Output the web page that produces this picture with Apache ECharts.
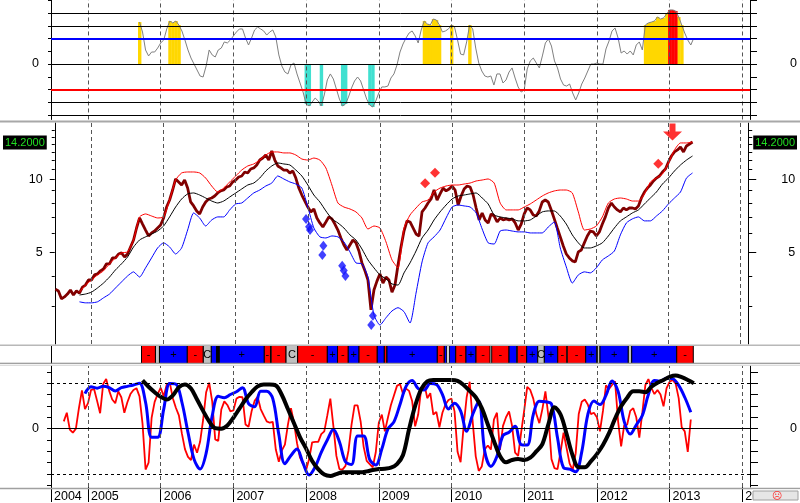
<!DOCTYPE html>
<html><head><meta charset="utf-8">
<script src="https://cdn.jsdelivr.net/npm/echarts@6/dist/echarts.min.js"></script>
<style>html,body{margin:0;padding:0;background:#fff}#c{width:800px;height:503px}</style>
</head><body><div id="c"></div>
<script>
// ---------- DATA ----------
// Top oscillator (half-monthly samples from 2005.7083)
const OSC_START = 2005.7083;
const oscillator = [3.29,2.51,1.10,0.63,0.94,0.94,1.25,1.65,1.88,2.75,
 3.37,3.22,3.37,3.06,2.59,1.88,1.10,0.47,0,-0.47,
 -0.94,-1.02,-0.16,1.10,0.71,0.55,1.10,1.25,1.73,1.65,
 1.88,2.20,2.51,2.75,2.75,2.04,1.49,2.04,2.67,2.90,
 2.75,2.59,2.27,2.51,2.67,2.12,0.71,-0.16,-0.63,-0.78,
 -0.08,0.08,-0.78,-1.49,-2.20,-3.14,-3.29,-2.98,-2.67,-2.90,
 -3.29,-2.43,-1.25,-0.78,-1.18,-1.96,-2.75,-3.29,-3.14,-2.59,
 -1.88,-1.33,-1.02,-1.33,-2.04,-2.75,-3.22,-3.37,-2.90,-2.27,
 -1.80,-1.80,-1.73,-1.10,-0.78,-0.08,0.94,1.57,2.04,2.43,
 2.59,2.20,1.65,2.67,3.37,3.14,3.06,3.53,3.45,3.06,
 2.51,2.59,2.75,3.06,2.90,1.88,0.78,0.71,1.73,3.06,
 2.75,1.25,0.08,-0.55,-0.94,-1.02,-0.94,-1.65,-0.78,-0.78,
 -1.49,-1.25,-0.63,-0.31,-1.10,-1.80,-2.20,-2.04,-0.39,0.24,
 0.47,0.08,-0.31,0.63,1.65,1.96,1.41,0.24,-0.31,-1.18,
 -1.65,-1.73,-1.57,-2.27,-2.82,-2.27,-1.57,-1.10,-0.55,0,
 0,0.08,0,0,1.18,1.80,2.59,2.82,2.04,0.86,
 1.02,0.78,1.02,0.71,1.49,1.73,1.10,3.06,3.22,3.29,
 3.37,3.69,3.53,3.61,3.92,4.24,4.24,4.16,3.69,3.06,
 2.43,1.88,1.49,2.04];
const oscLevels = [-4,-3,-2,0,2,3,4];

// Price (half-monthly closes from 2004.5)
const PRICE_START = 2004.5;
const price = [3.53,3.47,3.22,3.28,3.37,3.50,3.34,3.47,3.40,3.60,
 3.67,3.85,3.85,4.04,4.08,4.20,4.28,4.49,4.49,4.75,
 4.75,4.93,4.98,4.79,4.93,5.27,5.63,6.31,6.94,6.55,
 6.19,5.85,6.02,6.13,6.31,6.49,6.94,7.70,8.23,9.05,
 10.05,9.77,9.49,9.95,9.22,8.08,7.78,7.42,7.21,7.70,
 8.08,8.31,8.39,8.55,8.80,8.97,9.05,9.31,9.40,9.77,
 9.95,10.24,10.34,10.74,10.64,11.05,11.16,11.48,12.03,12.26,
 12.62,12.03,13.11,12.03,11.37,11.16,10.94,10.94,10.64,10.84,
 10.14,9.22,8.63,8.15,7.70,7.35,7.56,6.94,6.62,6.37,
 6.68,7.01,6.88,6.55,6.19,5.74,5.37,5.12,5.37,5.63,
 5.48,5.07,4.53,4.20,3.85,2.90,3.50,3.81,4.08,3.74,
 3.96,3.85,3.43,3.67,4.44,5.27,6.13,6.75,6.68,6.31,
 5.96,5.85,7.35,7.63,8.00,8.31,9.05,8.23,8.72,9.22,
 8.97,9.14,9.40,9.05,7.85,8.55,9.14,9.40,9.31,8.63,
 7.63,6.81,7.28,6.81,6.62,7.21,7.07,6.68,6.94,6.81,
 6.88,6.81,6.88,6.62,6.19,6.55,7.21,7.63,7.49,7.14,
 7.07,7.42,8.08,8.23,8.08,7.49,6.88,6.31,5.80,5.32,
 4.93,4.75,4.62,4.57,5.03,5.12,5.48,5.85,6.13,6.08,
 5.85,6.08,6.55,7.01,7.63,8.00,7.70,7.49,7.35,7.63,
 7.49,7.63,7.63,7.56,7.78,8.39,8.88,9.22,9.49,9.86,
 10.14,10.34,10.74,11.05,11.81,12.50,12.99,13.24,13.62,12.99,
 13.75,14.01,14.28];

// Envelope (monthly from 2004.8333)
const ENV_START = 2004.8333;
const upperBand = [3.43,3.67,3.85,4.04,4.20,4.49,4.75,4.98,5.03,5.63,
 7.01,7.21,7.07,6.94,7.01,8.23,9.95,10.64,10.74,10.74,
 10.64,10.14,9.40,8.88,9.22,9.77,10.34,10.94,11.37,11.59,
 12.03,12.62,12.99,12.99,12.87,12.87,12.62,12.15,12.03,12.26,
 12.03,11.16,9.49,8.00,7.70,7.56,7.35,6.94,6.25,6.43,
 6.31,5.53,4.66,4.32,6.31,7.14,7.63,8.08,8.23,8.88,
 9.22,9.40,9.49,9.49,9.58,9.67,9.86,9.95,10.05,9.67,
 8.00,7.49,7.49,7.49,7.70,7.93,8.23,8.55,8.80,8.97,
 9.05,9.05,8.80,7.35,6.19,6.25,6.43,7.01,8.00,8.31,
 8.39,8.31,8.15,8.15,8.72,9.77,10.14,10.54,11.70,13.24,
 14.15,14.15,14.28];
const middleLine = [3.34,3.37,3.43,3.57,3.74,3.96,4.24,4.49,4.79,5.27,
 5.63,5.80,5.96,6.13,6.43,7.01,7.70,8.31,8.72,8.80,
 8.63,8.39,8.15,8.00,8.15,8.47,8.80,9.14,9.49,9.67,
 10.14,10.84,11.37,11.70,11.59,11.48,10.94,10.34,9.49,8.63,
 8.08,7.42,6.88,6.62,6.31,5.91,5.63,5.17,4.66,4.32,
 4.04,3.89,3.71,3.67,4.12,4.53,5.07,5.74,6.19,6.81,
 7.35,7.85,8.31,8.55,8.63,8.72,8.80,8.39,7.93,7.14,
 7.01,6.94,6.88,6.75,6.75,6.81,7.07,7.35,7.42,7.42,
 7.07,6.55,5.91,5.48,5.22,5.22,5.32,5.48,5.85,6.31,
 6.75,7.01,7.28,7.49,7.93,8.39,8.88,9.58,10.14,10.84,
 11.48,12.03,12.50];
const lowerBand = [3.13,3.10,3.10,3.13,3.25,3.37,3.57,3.78,4.00,4.16,
 3.96,4.32,4.75,5.22,5.48,5.27,4.93,5.22,6.19,7.28,
 6.94,6.43,6.81,7.01,7.01,7.49,7.93,8.00,8.39,8.80,
 9.05,9.40,9.67,10.34,10.05,9.77,9.58,9.22,7.70,6.31,
 5.80,5.74,5.85,5.80,5.53,5.03,4.53,4.49,3.96,2.76,
 2.51,2.69,2.87,2.96,2.85,2.56,3.40,4.57,5.48,5.80,
 6.19,6.94,7.70,7.85,7.78,7.70,7.28,6.25,5.48,5.42,
 6.13,6.19,6.13,6.08,6.08,6.02,6.02,6.02,6.37,6.68,
 5.22,4.36,3.74,4.04,4.16,4.12,4.32,4.66,4.84,5.07,
 5.91,6.62,6.88,7.01,6.75,6.75,7.07,7.42,7.93,8.39,
 8.88,10.14,10.64];

// Signals [year, price]
const blueSignals = [[2007.975,6.88],[2008.017,6.39],[2008.030,6.19],[2008.215,5.33],[2008.201,4.88],
 [2008.476,4.41],[2008.498,4.21],[2008.521,4.00],[2008.902,2.74],[2008.879,2.51]];
const redSignals = [[2009.626,9.64],[2009.763,10.66],[2012.858,11.62]];
const arrowSignal = [[2013.056,15.70]];
const lastPrice = 14.2;

// Trend band segments
const bandFrom = [2005.736,2005.928,2005.983,2006.366,2006.586,2006.696,2006.770,2006.806,2007.425,2007.520,
 2007.724,2007.884,2008.292,2008.432,2008.580,2008.728,2008.979,2009.076,2009.113,2009.805,
 2009.901,2009.970,2010.058,2010.199,2010.337,2010.553,2010.791,2010.905,2011.034,2011.186,
 2011.277,2011.461,2011.593,2011.846,2012.006,2012.043,2012.432,2012.479,2013.098];
const bandTo = [2005.928,2005.983,2006.366,2006.586,2006.696,2006.770,2006.806,2007.425,2007.510,2007.724,
 2007.884,2008.292,2008.432,2008.580,2008.728,2008.979,2009.076,2009.109,2009.805,2009.901,
 2009.934,2010.058,2010.199,2010.337,2010.530,2010.791,2010.897,2011.034,2011.186,2011.277,
 2011.461,2011.585,2011.846,2011.997,2012.043,2012.432,2012.479,2013.098,2013.326];
const bandKind = ['D','C','U','D','C','U','K','U','D','D',
 'C','D','U','D','U','D','U','D','U','D',
 'U','U','D','U','D','D','U','D','U','C',
 'U','D','D','U','C','U','C','U','D'];
const bandText = ['-','','+','-','C','','','+','-','-',
 'C','-','+','-','+','-','','','+','-',
 '','','-','+','-','-','','-','+','C',
 '+','-','-','+','','+','','+','-'];

// Bottom oscillators
const FAST_START = 2004.6667;  // half-monthly
const fastOsc = [16,35,-2,-9,0,45,84,43,56,85,
 87,61,34,98,109,83,64,56,82,69,
 35,58,76,85,89,71,11,-90,-75,24,
 59,76,90,71,97,101,67,46,29,-11,
 -45,-62,-69,-35,-53,-29,19,80,101,60,
 -24,-27,42,60,52,38,40,66,70,69,
 9,4,38,61,70,43,29,16,13,15,
 -46,-73,-48,-35,9,45,13,-32,-64,-78,
 -91,-67,-30,-29,-29,-12,-6,29,66,6,
 -60,-89,-90,-82,-48,9,51,51,16,-40,
 -71,-78,-85,-52,13,31,-6,24,52,73,
 94,98,76,88,83,61,5,31,88,99,
 67,78,31,37,3,35,53,63,66,38,
 -51,-74,5,69,103,15,-61,-93,-83,-45,
 -37,-46,20,35,-47,6,25,38,6,-53,
 -60,-8,40,92,85,66,32,12,43,82,
 27,-67,-87,-89,-51,-9,-43,-77,-91,-54,
 32,59,64,53,32,35,25,-6,39,95,
 87,96,104,16,-39,7,9,39,45,25,
 -20,35,96,109,89,76,85,75,49,89,
 103,107,99,67,3,-6,-51,20];
const MED_START = 2004.9583;   // monthly
const medOsc = [77,92,89,93,90,83,90,93,96,100,
 58,-19,-19,43,99,98,58,-8,-67,-89,
 -54,28,71,68,75,81,90,55,48,82,
 82,66,-13,-77,-59,-45,-76,-102,-84,-52,
 -25,-2,-29,-73,-79,-16,-16,-68,-80,-45,
 -1,15,53,93,106,88,85,99,97,75,
 43,56,39,-6,31,60,-51,-83,-61,-15,
 -8,5,-35,-36,31,60,59,54,-20,-86,
 -89,-95,-51,31,61,53,73,105,82,16,
 -12,8,29,75,106,104,111,110,95,69,
 36];
const SLOW_START = 2005.75;    // monthly
const slowOsc = [106,92,80,70,64,73,91,97,88,64,
 39,16,1,0,7,24,44,64,80,93,
 97,97,95,74,43,12,-19,-44,-71,-89,
 -101,-104,-100,-96,-96,-96,-96,-94,-91,-89,
 -88,-86,-78,-58,-1,50,87,104,107,107,
 107,107,105,96,83,69,45,9,-27,-60,
 -74,-69,-67,-69,-64,-50,-34,10,47,31,
 -12,-59,-85,-85,-72,-56,-36,-10,22,49,
 68,82,82,80,92,101,107,114,117,113,
 107,100];

const yearLines = [2005,2006,2007,2008,2009,2010,2011,2012,2013,2014];
const yearLabels = [2004.491,2005,2006,2007,2008,2009,2010,2011,2012,2013,2014];
const topTicks = [-4,-3,-2,-1,0,1,2,3,4,5];
const priceTicks = [3,4,6,7,8,9,11,12,13,14,15,16];
const priceMajor = [5,10];
const botTicks = [-125,-100,-75,-50,-25,0,25,50,75,100,125];

// ---------- BUILD ----------
const HALF = 1/24, MONTH = 1/12;
const X_MIN = 2004.491, X_MAX = 2014.106;
const FONT = 'Liberation Sans, Arial, sans-serif';
const lg = Math.log10;
const ts = (vals, start, step, f) => vals.map((v,i)=>[+(start+i*step).toFixed(5), f?f(v):v]);

const oscData = ts(oscillator, OSC_START, HALF);
const yellowFill = oscData.filter(d=>d[1]>3 && d[1]<=4);
const redFill = oscData.filter(d=>d[1]>4);
const cyanFill = oscData.filter(d=>d[1]<-3);

const MID_MIN = lg(2.097), MID_MAX = lg(17.10);

function xa(gi, extra){
  return Object.assign({type:'value', gridIndex:gi, min:X_MIN, max:X_MAX,
    axisLine:{show:false, onZero:false}, axisTick:{show:false}, axisLabel:{show:false}, splitLine:{show:false}}, extra||{});
}
function ya(o){
  return {
    type:'value', gridIndex:o.grid, position:o.pos, min:o.min, max:o.max,
    axisLine:{show:!!o.line, onZero:false, lineStyle:{color:'#000', width:1}},
    axisTick:{show:!!o.ticks, customValues:o.ticks, length:o.len||3, lineStyle:{color:'#000', width:1}},
    axisLabel: o.labels ? Object.assign({show:true, customValues:o.labels, color:'#000', fontSize:12.5,
        fontFamily:FONT, margin:o.pos==='right'?47:12, align:'right'}, o.lab||{}) : {show:false},
    splitLine:{show:false}
  };
}
const powFmt = v => String(Math.round(Math.pow(10, v)));
const boxLab = {formatter:()=>lastPrice.toFixed(4), backgroundColor:'#000', color:'#22dd22', fontSize:11,
  fontFamily:FONT, padding:[2,2,1,2]};

function guide(xi, yi, lines){
  return {type:'line', xAxisIndex:xi, yAxisIndex:yi, data:[], silent:true, z:1,
    markLine:{silent:true, symbol:['none','none'], animation:false, label:{show:false},
      lineStyle:{color:'#555', type:[4,3], width:1}, emphasis:{disabled:true}, data:lines}};
}
function fill(data, color){
  return {type:'custom', xAxisIndex:0, yAxisIndex:0, z:2, silent:true, data:data, encode:{x:0,y:1},
    renderItem:(p, api)=>{
      const t=api.value(0), v=api.value(1);
      const a=api.coord([t-HALF/2,0]), b=api.coord([t+HALF/2,v]);
      return {type:'rect', shape:{x:a[0], y:Math.min(a[1],b[1]), width:b[0]-a[0]+0.4, height:Math.abs(b[1]-a[1])},
        style:{fill:color}};
    }};
}
const BAND_COLORS = {U:'#0000ff', D:'#ff0000', C:'#c0c0c0', K:'#000000'};
function line(xi, yi, data, color, width, z, smooth){
  return {type:'line', xAxisIndex:xi, yAxisIndex:yi, data:data, showSymbol:false, symbol:'none', silent:true,
    smooth:smooth||false, z:z, lineStyle:{color:color, width:width}};
}

const option = {
  animation:false,
  backgroundColor:'#fff',
  grid:[
    {left:51, right:50, top:0.25, height:119.2125},
    {left:51, right:50, top:123, height:221},
    {left:51, right:50, top:346, height:17},
    {left:51, right:50, top:366, height:122}
  ],
  xAxis:[xa(0), xa(1), xa(2), xa(3, {
    axisTick:{show:true, customValues:yearLabels, length:15, lineStyle:{color:'#000', width:1}},
    axisLabel:{show:true, customValues:yearLabels, formatter:v=>String(Math.floor(v+1e-6)), align:'left',
      padding:[0,0,0,3], margin:3, fontSize:12.5, color:'#000', fontFamily:FONT}
  })],
  yAxis:[
    ya({grid:0,pos:'left',min:-4.35,max:5,line:1,ticks:topTicks,len:3,labels:[0]}),
    ya({grid:0,pos:'right',min:-4.35,max:5,line:1,ticks:topTicks,len:7,labels:[0]}),
    ya({grid:1,pos:'left',min:MID_MIN,max:MID_MAX,line:1,ticks:priceTicks.map(lg),len:3,labels:priceMajor.map(lg),lab:{formatter:powFmt}}),
    ya({grid:1,pos:'right',min:MID_MIN,max:MID_MAX,line:1,ticks:priceTicks.map(lg),len:4,labels:priceMajor.map(lg),lab:{formatter:powFmt}}),
    ya({grid:1,pos:'left',min:MID_MIN,max:MID_MAX,ticks:priceMajor.map(lg),len:5}),
    ya({grid:1,pos:'right',min:MID_MIN,max:MID_MAX,ticks:priceMajor.map(lg),len:8}),
    ya({grid:1,pos:'left',min:MID_MIN,max:MID_MAX,labels:[lg(lastPrice)],lab:Object.assign({margin:8},boxLab)}),
    ya({grid:1,pos:'right',min:MID_MIN,max:MID_MAX,labels:[lg(lastPrice)],lab:Object.assign({margin:5,align:'left'},boxLab)}),
    ya({grid:2,pos:'left',min:0,max:1,line:1}),
    ya({grid:3,pos:'left',min:-128.35,max:137.73,line:1,ticks:botTicks,len:4,labels:[0]}),
    ya({grid:3,pos:'right',min:-128.35,max:137.73,line:1,ticks:botTicks,len:8,labels:[0]})
  ],
  series:[
    // top panel
    guide(0,0, yearLines.map(y=>({xAxis:y}))),
    fill(yellowFill,'#ffd700'), fill(redFill,'#ff0000'), fill(cyanFill,'#40e0d0'),
    {type:'line', xAxisIndex:0, yAxisIndex:0, data:[], silent:true, z:3,
      markLine:{silent:true, symbol:['none','none'], label:{show:false}, emphasis:{disabled:true},
        lineStyle:{color:'#000', width:1, type:'solid'},
        data: oscLevels.map(v=>{
          if (v===2) return {yAxis:v, lineStyle:{color:'#0000ff', width:2.2}};
          if (v===-2) return {yAxis:v, lineStyle:{color:'#ff0000', width:2.2}};
          return {yAxis:v};
        })}},
    line(0,0, oscData, '#808080', 1, 4),
    // middle panel
    guide(1,2, yearLines.map(y=>({xAxis:y}))),
    line(1,2, ts(price, PRICE_START, HALF, lg), '#800000', 2.8, 2),
    line(1,2, ts(upperBand, ENV_START, MONTH, lg), '#ff0000', 1, 3, 0.2),
    line(1,2, ts(middleLine, ENV_START, MONTH, lg), '#000000', 1, 3, 0.2),
    line(1,2, ts(lowerBand, ENV_START, MONTH, lg), '#0000ff', 1, 3, 0.2),
    {type:'scatter', xAxisIndex:1, yAxisIndex:2, data:blueSignals.map(d=>[d[0], lg(d[1])]), symbol:'diamond',
      symbolSize:[8,10], itemStyle:{color:'#1010ff'}, silent:true, z:6},
    {type:'scatter', xAxisIndex:1, yAxisIndex:2, data:redSignals.map(d=>[d[0], lg(d[1])]), symbol:'diamond',
      symbolSize:[10,10], itemStyle:{color:'#ff0000'}, silent:true, z:6},
    {type:'scatter', xAxisIndex:1, yAxisIndex:2, data:arrowSignal.map(d=>[d[0], lg(d[1])]), clip:false,
      symbol:'path://M6.5,0 L12.5,0 L12.5,8 L19,8 L9.5,17 L0,8 L6.5,8 Z', symbolSize:[19,17],
      itemStyle:{color:'#ff0000'}, silent:true, z:6},
    // band strip
    {type:'custom', xAxisIndex:2, yAxisIndex:8, silent:true, z:3, encode:{x:[0,1]},
      data: bandFrom.map((s,i)=>[s, bandTo[i], i]),
      renderItem:(p, api)=>{
        const i = api.value(2);
        const a = api.coord([api.value(0),1]), b = api.coord([api.value(1),0]);
        const x0=a[0], x1=b[0], y0=a[1], y1=b[1];
        const ch = [
          {type:'rect', shape:{x:x0, y:y0, width:x1-x0, height:y1-y0}, style:{fill:BAND_COLORS[bandKind[i]]}},
          {type:'line', shape:{x1:x0, y1:y0, x2:x0, y2:y1}, style:{stroke:'#000', lineWidth:1}},
          {type:'line', shape:{x1:x1, y1:y0, x2:x1, y2:y1}, style:{stroke:'#000', lineWidth:1}}
        ];
        if (bandText[i]) ch.push({type:'text', style:{text:bandText[i], x:(x0+x1)/2, y:(y0+y1)/2+0.5,
          align:'center', verticalAlign:'middle', fill:'#000', font:'11px '+FONT}});
        return {type:'group', children:ch};
      }},
    // bottom panel
    guide(3,9, yearLines.map(y=>({xAxis:y}))),
    {type:'line', xAxisIndex:3, yAxisIndex:9, data:[], silent:true, z:1,
      markLine:{silent:true, symbol:['none','none'], label:{show:false}, emphasis:{disabled:true},
        data:[{yAxis:100, lineStyle:{color:'#000', type:[3,3], width:1}},
              {yAxis:-100, lineStyle:{color:'#000', type:[3,3], width:1}},
              {yAxis:0, lineStyle:{color:'#000', type:'solid', width:1}}]}},
    line(3,9, ts(fastOsc, FAST_START, HALF), '#ff0000', 1.8, 2),
    line(3,9, ts(medOsc, MED_START, MONTH), '#0000ff', 3, 3, 0.35),
    line(3,9, ts(slowOsc, SLOW_START, MONTH), '#000000', 4, 4, 0.35)
  ],
  graphic:[
    {type:'rect', z:100, shape:{x:0,y:120.5,width:800,height:2}, style:{fill:'#a8a8a8'}},
    {type:'rect', z:100, shape:{x:0,y:344.5,width:800,height:1.5}, style:{fill:'#b8b8b8'}},
    {type:'rect', z:100, shape:{x:0,y:362.8,width:800,height:1}, style:{fill:'#808080'}},
    {type:'rect', z:100, shape:{x:0,y:364.8,width:800,height:1}, style:{fill:'#d0d0d0'}},
    {type:'rect', z:100, shape:{x:0,y:487.8,width:800,height:1.5}, style:{fill:'#a0a0a0'}},
    {type:'rect', z:100, shape:{x:752.5,y:489.5,width:48,height:14}, style:{fill:'#fff'}},
    {type:'rect', z:101, shape:{x:753,y:491,width:45,height:9}, style:{fill:'#e6e6e6', stroke:'#a0a0a0', lineWidth:1}},
    {type:'text', z:102, style:{text:'\u2639', x:777, y:496, align:'center', verticalAlign:'middle', fill:'#ff3030', font:'10px DejaVu Sans'}}
  ]
};
const chart = echarts.init(document.getElementById('c'), null, {renderer:'canvas'});
chart.setOption(option);
</script></body></html>
